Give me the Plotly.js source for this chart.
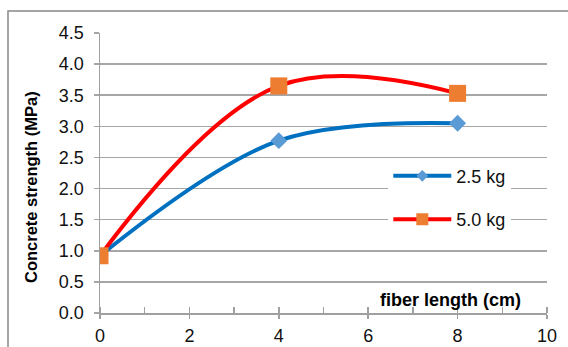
<!DOCTYPE html>
<html>
<head>
<meta charset="utf-8">
<script src="https://cdn.plot.ly/plotly-3.0.1.min.js"></script>
<style>
  html, body { margin: 0; padding: 0; background: #fff; }
  #chart { width: 568px; height: 347px; }
</style>
</head>
<body>
<div id="chart"></div>
<script>
// Fiber length (cm) and concrete strength (MPa) for two fiber dosages
const fiberLength = [0, 4, 8];
const strength25 = [0.92, 2.77, 3.05];
const strength50 = [0.92, 3.65, 3.53];
const seriesNames = ['2.5 kg', '5.0 kg'];
const yTicks = [0, 0.5, 1, 1.5, 2, 2.5, 3, 3.5, 4, 4.5];
const yTickText = yTicks.map(v => v.toFixed(1));
const xTicks = [0, 2, 4, 6, 8, 10];

const blueLine = '#0070C0', blueMark = '#5B9BD5';
const redLine = '#FF0000', orangeMark = '#ED7D31';
const font = 'Arial, "Liberation Sans", sans-serif';
const textColor = '#111';

const traces = [
  {
    x: fiberLength, y: strength25, type: 'scatter', mode: 'lines+markers',
    line: { color: blueLine, width: 4, shape: 'spline', smoothing: 1 },
    marker: { symbol: 'diamond', size: 13, color: blueMark },
    showlegend: false, hoverinfo: 'skip'
  },
  {
    x: fiberLength, y: strength50, type: 'scatter', mode: 'lines+markers',
    line: { color: redLine, width: 4, shape: 'spline', smoothing: 1.1 },
    marker: { symbol: 'square', size: 17, color: orangeMark },
    showlegend: false, hoverinfo: 'skip'
  },
  // legend entries with smaller symbols
  {
    x: [null], y: [null], type: 'scatter', mode: 'lines+markers', name: seriesNames[0],
    legendgroup: 'a',
    line: { color: blueLine, width: 4 },
    marker: { symbol: 'diamond', size: 9, color: blueMark }
  },
  {
    x: [null], y: [null], type: 'scatter', mode: 'lines+markers', name: seriesNames[1],
    legendgroup: 'b',
    line: { color: redLine, width: 4 },
    marker: { symbol: 'square', size: 12, color: orangeMark }
  }
];

const layout = {
  width: 568, height: 347,
  margin: { l: 100, r: 21, t: 33, b: 34, pad: 0 },
  paper_bgcolor: '#fff', plot_bgcolor: '#fff',
  font: { family: font, size: 18, color: textColor },
  showlegend: true,
  legend: {
    x: 0.645, y: 0.555, xanchor: 'left', yanchor: 'top',
    bgcolor: '#fff', borderwidth: 0,
    itemwidth: 58, tracegroupgap: 17,
    font: { family: font, size: 18, color: textColor }
  },
  xaxis: {
    range: [0, 10], tickvals: xTicks, ticktext: xTicks.map(String),
    showgrid: false, zeroline: false,
    showline: true, linecolor: '#a0a0a0', linewidth: 1.5,
    ticks: 'outside', ticklen: 4, tickcolor: '#a0a0a0', tickwidth: 1.5,
    ticklabelstandoff: 2,
    minor: { dtick: 1, ticks: 'inside', ticklen: 6, tickcolor: '#a0a0a0', tickwidth: 1.5, showgrid: false },
    tickfont: { family: font, size: 18, color: textColor },
    fixedrange: true
  },
  yaxis: {
    range: [0, 4.5], tickvals: yTicks, ticktext: yTickText,
    showgrid: true, gridcolor: '#a6a6a6', gridwidth: 1.5, zeroline: false,
    showline: true, linecolor: '#a0a0a0', linewidth: 1.5,
    ticks: 'outside', ticklen: 5, tickcolor: '#a6a6a6', tickwidth: 1.5,
    ticklabelstandoff: 6,
    tickfont: { family: font, size: 18, color: textColor },
    fixedrange: true
  },
  annotations: [
    {
      text: '<b>Concrete strength (MPa)</b>', xref: 'paper', yref: 'paper',
      x: -0.1544, y: 0.45, xanchor: 'center', yanchor: 'middle', textangle: -90,
      showarrow: false, font: { family: font, size: 16.5, color: '#000' }
    },
    {
      text: '<b>fiber length (cm)</b>', xref: 'paper', yref: 'paper',
      x: 0.785, y: 0.048, xanchor: 'center', yanchor: 'middle',
      showarrow: false, font: { family: font, size: 18, color: '#000' }
    }
  ],
  shapes: [
    {
      type: 'rect', xref: 'paper', yref: 'paper',
      x0: -0.2058, x1: 1.06, y0: -0.15, y1: 1.0786,
      line: { color: '#888', width: 1.5 }, layer: 'below'
    }
  ]
};

Plotly.newPlot('chart', traces, layout, { displayModeBar: false, staticPlot: true });
</script>
</body>
</html>
